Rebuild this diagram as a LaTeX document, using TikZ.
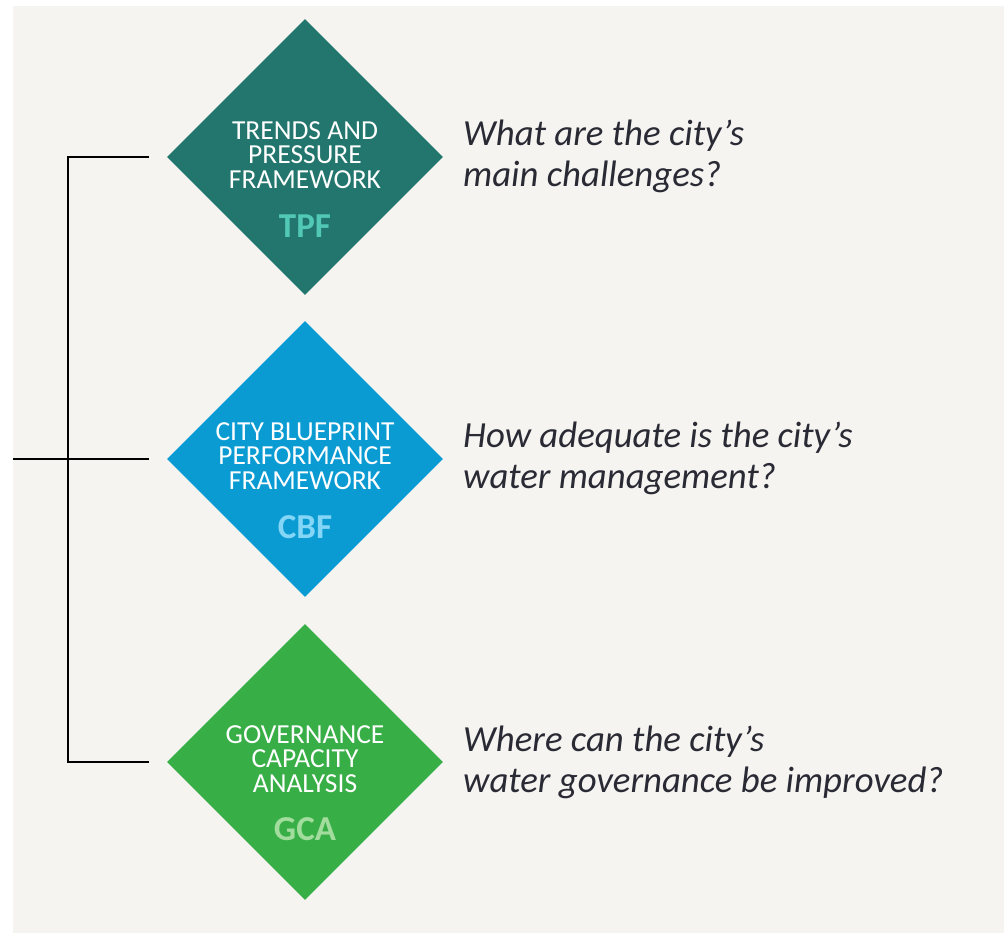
\documentclass[tikz,border=0pt]{standalone}
\usepackage{fontspec}
\setmainfont{Carlito}
\usetikzlibrary{shapes.geometric}

\definecolor{paper}{HTML}{F5F4F1}
\definecolor{tpfdark}{HTML}{22766D}
\definecolor{tpflight}{HTML}{52C9B6}
\definecolor{cbfdark}{HTML}{0B9BD3}
\definecolor{cbflight}{HTML}{84D6F6}
\definecolor{gcadark}{HTML}{38AE47}
\definecolor{gcalight}{HTML}{A2DD9E}
\definecolor{ink}{HTML}{2A2A35}

\tikzset{
  frame/.style={diamond, minimum width=276, minimum height=276, inner sep=0pt, fill=#1},
  title/.style={white, align=center, inner sep=0pt, anchor=base,
    font=\fontsize{27.5}{24.5}\selectfont},
  abbr/.style={text=#1, inner sep=0pt, anchor=base, font=\fontsize{35}{35}\selectfont\bfseries},
  question/.style={ink, align=left, inner sep=0pt, anchor=base west,
    font=\fontsize{36.8}{40.5}\selectfont\itshape},
  link/.style={line width=1.6pt, black}
}

\begin{document}
\begin{tikzpicture}[x=1pt,y=-1pt]
\useasboundingbox (0,0) rectangle (1004,934);
\fill[paper] (13,6) rectangle (1004,933);

\node[frame=tpfdark] (tpf) at (305,157) {};
\node[title] (tpf-title) at (305,188) {TRENDS AND\\PRESSURE\\FRAMEWORK};
\node[abbr=tpflight] (tpf-abbr) at (305,237) {TPF};
\node[question] (tpf-q) at (463,186) {What are the city’s\\main challenges?};

\node[frame=cbfdark] (cbf) at (305,459) {};
\node[title] (cbf-title) at (305,489) {CITY BLUEPRINT\\PERFORMANCE\\FRAMEWORK};
\node[abbr=cbflight] (cbf-abbr) at (305,538) {CBF};
\node[question] (cbf-q) at (463,488) {How adequate is the city’s\\water management?};

\node[frame=gcadark] (gca) at (305,762) {};
\node[title] (gca-title) at (305,792) {GOVERNANCE\\CAPACITY\\ANALYSIS};
\node[abbr=gcalight] (gca-abbr) at (305,840) {GCA};
\node[question] (gca-q) at (463,792) {Where can the city’s\\water governance be improved?};

% bracket on the left
\coordinate (feed) at (13,459);
\draw[link] ([xshift=-18]tpf.west) -- ++(-81,0) |- ([xshift=-18]gca.west);
\draw[link] (feed) -- ([xshift=-18]cbf.west);
\end{tikzpicture}
\end{document}
